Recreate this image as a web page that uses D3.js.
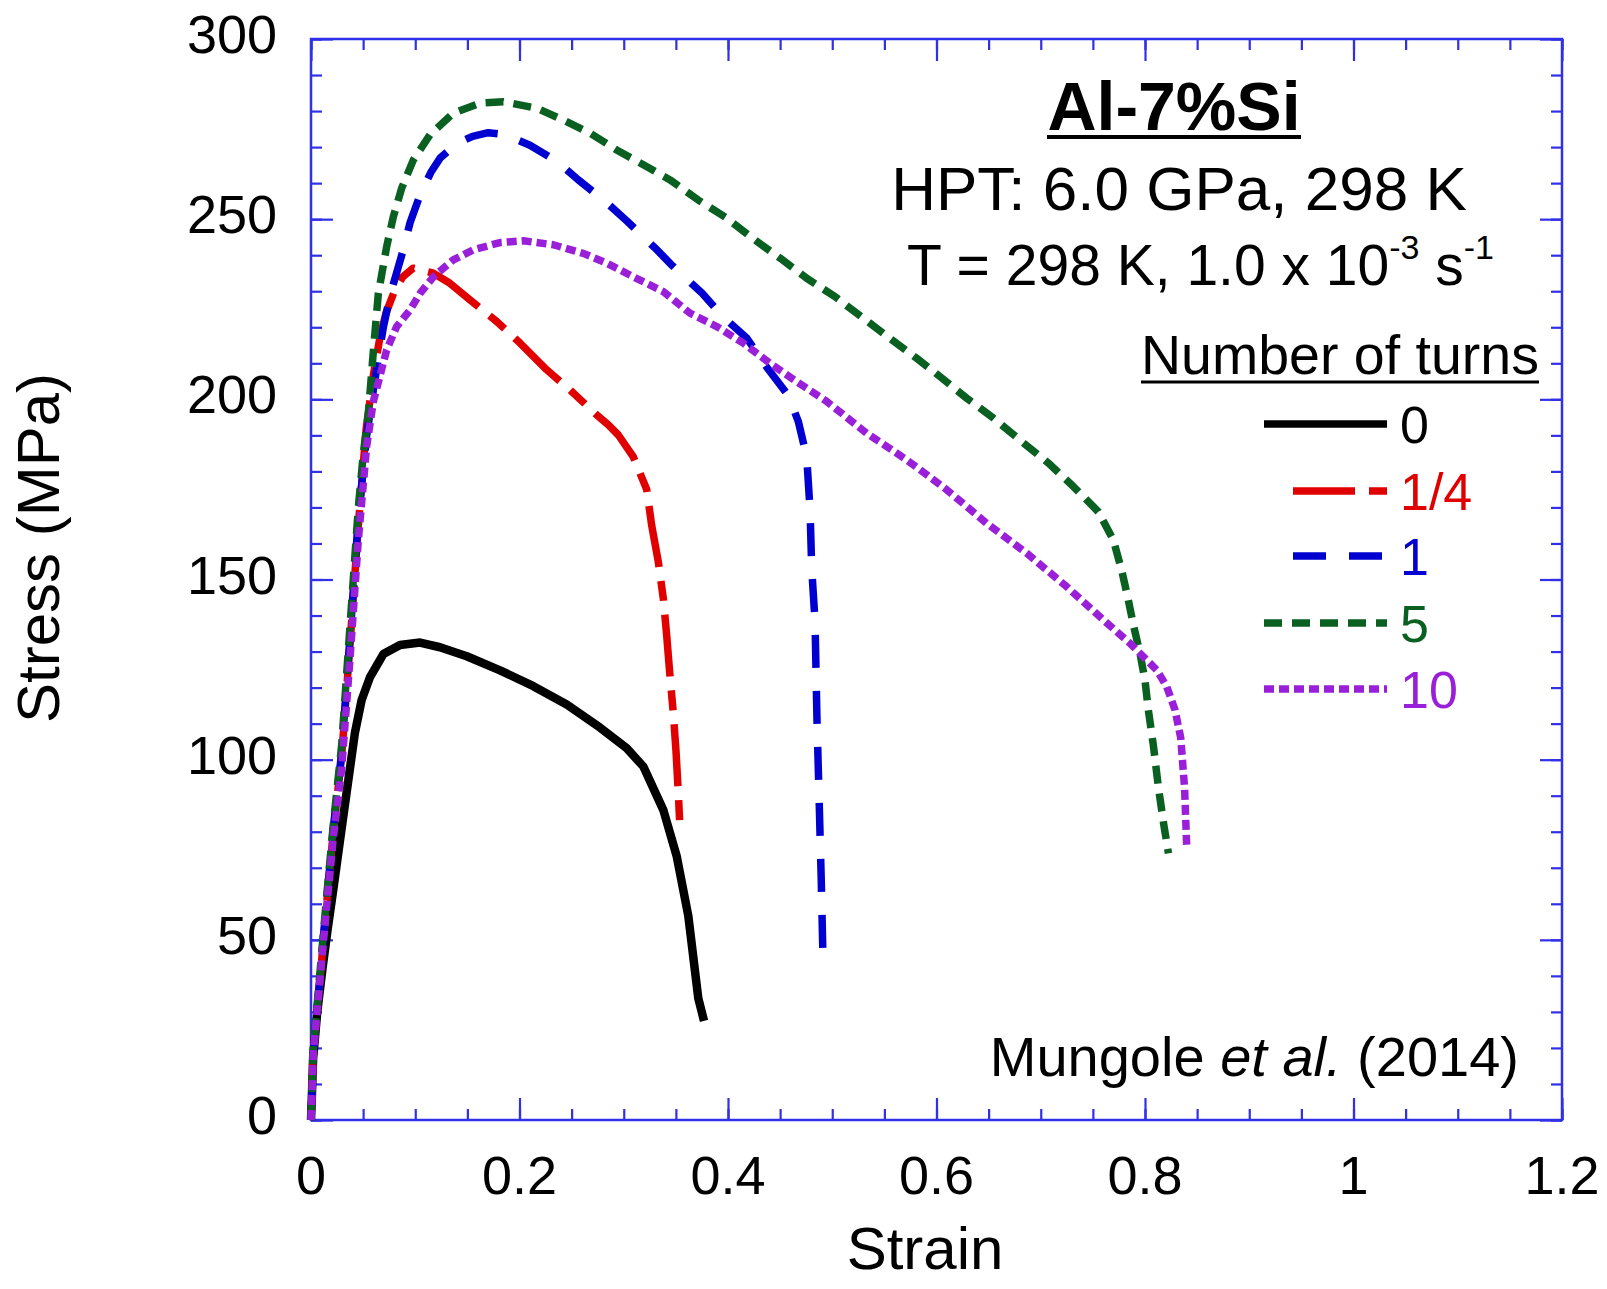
<!DOCTYPE html>
<html>
<head>
<meta charset="utf-8">
<script src="https://cdn.jsdelivr.net/npm/d3@7"></script>
<style>
  body { margin: 0; background: #fff; }
  text { font-family: "Liberation Sans", Arial, sans-serif; }
</style>
</head>
<body>
<svg id="chart" width="1607" height="1289"></svg>
<script>
// stress-strain curves, [strain, stress MPa]
const turns0 = [[0,0],[0.001,8],[0.002,17],[0.006,30],[0.011,42],[0.016,53],[0.0214,64],[0.028,78],[0.0342,91],[0.0422,107.6],[0.0486,116.6],[0.0566,122.9],[0.0694,129.3],[0.0854,131.8],[0.1046,132.5],[0.1237,131.2],[0.1494,128.7],[0.1813,124.8],[0.2133,120.4],[0.2453,115.3],[0.2772,108.9],[0.3028,103.2],[0.3188,98.1],[0.338,86],[0.3508,73.2],[0.3619,56.7],[0.3715,33.8],[0.377,27.5]]
const turnsQuarter = [[0,0],[0.001,8],[0.002,18],[0.0086,39],[0.015,60],[0.0214,80],[0.0294,101],[0.0374,132],[0.0454,165],[0.053,192],[0.06,207],[0.066,217],[0.072,224],[0.08,230],[0.088,234],[0.098,236.4],[0.1174,235],[0.1333,232.2],[0.1525,227.6],[0.1781,221.6],[0.2005,215.6],[0.2261,208.2],[0.2485,202.6],[0.274,195.7],[0.2852,192.9],[0.2948,190.1],[0.3092,184],[0.322,175],[0.3268,165],[0.3332,154.8],[0.338,144.6],[0.3412,134.4],[0.3444,123],[0.3476,112.7],[0.3501,102.5],[0.3523,91],[0.354,80.5]]
const turns1 = [[0,0],[0.001,8],[0.002,18],[0.0086,40],[0.015,61],[0.0214,81],[0.0294,102],[0.0374,134],[0.0454,167],[0.0534,190],[0.06,203],[0.0694,220],[0.076,229],[0.082,235],[0.088,241],[0.095,249],[0.105,257],[0.115,263],[0.124,267],[0.14,271],[0.155,273],[0.17,274],[0.186,273.5],[0.21,270.5],[0.236,266],[0.256,261],[0.282,255],[0.303,249.5],[0.33,242],[0.347,237],[0.375,229.5],[0.395,223],[0.418,217],[0.437,209],[0.458,201],[0.4675,193.8],[0.4755,184.1],[0.4787,169.3],[0.4803,153.1],[0.4835,138.3],[0.4853,111.7],[0.4875,88],[0.4895,66],[0.4911,45]]
const turns5 = [[0,0],[0.001,8],[0.002,19],[0.0086,41],[0.015,62],[0.0214,82],[0.0294,104],[0.0374,137],[0.0454,170],[0.0502,185],[0.055,196],[0.06,214],[0.0646,229.4],[0.0726,242.4],[0.079,250.7],[0.087,258.6],[0.0981,266.4],[0.1141,273.4],[0.1365,279.4],[0.1621,282.2],[0.1845,282.6],[0.2165,280.8],[0.242,277.5],[0.2676,273.9],[0.2932,269.2],[0.3188,265.1],[0.3444,260.9],[0.3715,255.3],[0.3987,250.3],[0.4259,244.2],[0.4499,239.2],[0.4755,233.6],[0.5026,228.5],[0.5298,222.5],[0.5554,216.9],[0.581,211.4],[0.6034,206.3],[0.629,200.3],[0.6545,194.8],[0.6817,188.3],[0.7073,182.3],[0.7313,175.8],[0.7552,168.8],[0.7696,161],[0.7776,152.6],[0.784,144.3],[0.7888,137.5],[0.7952,129.5],[0.8,122],[0.8032,113.8],[0.808,104],[0.813,92],[0.818,82],[0.8225,74]]
const turns10 = [[0,0],[0.001,7],[0.0022,18.5],[0.0086,38.9],[0.015,59.2],[0.0214,78.3],[0.0294,97.5],[0.0374,128],[0.0454,161],[0.0534,187],[0.0598,199.4],[0.0726,213.7],[0.0822,220.2],[0.095,224.8],[0.1046,229.4],[0.1174,234],[0.1365,238.7],[0.1557,241.5],[0.1813,243.5],[0.2037,244],[0.2324,242.9],[0.2612,240.5],[0.2836,237.8],[0.3092,234],[0.338,229.9],[0.3635,223.9],[0.3892,220.2],[0.4147,215.6],[0.4403,210],[0.4659,204.9],[0.4947,199.4],[0.533,190.6],[0.5714,183.2],[0.6098,174.9],[0.6481,165.6],[0.6865,157.3],[0.7249,148],[0.76,138.8],[0.7856,132.3],[0.7952,129.5],[0.8112,124.9],[0.8208,120.3],[0.8288,113.8],[0.8343,106],[0.838,92],[0.84,76]]

const seriesNames = ['0', '1/4', '1', '5', '10']
const seriesData = [turns0, turnsQuarter, turns1, turns5, turns10]
const seriesColors = ['#000000', '#e00000', '#0000d0', '#0a6020', '#9a1fd8']
const seriesDash = ['none', '62,14,20,14', '33,23', '18,10', '10,5']

const xTicks = [0, 0.2, 0.4, 0.6, 0.8, 1, 1.2]
const yTicks = [0, 50, 100, 150, 200, 250, 300]

const svg = d3.select('#chart')
const frame = { left: 311, right: 1562, top: 39, bottom: 1120 }
const axisColor = '#3030e8'

const x = d3.scaleLinear().domain([0, 1.2]).range([frame.left, frame.right])
const y = d3.scaleLinear().domain([0, 300]).range([frame.bottom, frame.top])

svg.append('rect')
    .attr('width', 1607).attr('height', 1289).attr('fill', '#fff')

// ticks, inward on all four sides
const xMinor = d3.range(0, 1.2001, 0.05)
const yMinor = d3.range(0, 300.1, 10)

function tickAxis(axisFn, scale, values, size, transform) {
    svg.append('g')
        .attr('transform', transform)
        .call(axisFn(scale).tickValues(values).tickSize(size).tickFormat(''))
        .call(g => g.select('.domain').remove())
        .call(g => g.selectAll('line').attr('stroke', axisColor).attr('stroke-width', 2.2))
}
tickAxis(d3.axisTop, x, xMinor, 11, `translate(0,${frame.bottom})`)
tickAxis(d3.axisTop, x, xTicks, 22, `translate(0,${frame.bottom})`)
tickAxis(d3.axisBottom, x, xMinor, 11, `translate(0,${frame.top})`)
tickAxis(d3.axisBottom, x, xTicks, 22, `translate(0,${frame.top})`)
tickAxis(d3.axisRight, y, yMinor, 11, `translate(${frame.left},0)`)
tickAxis(d3.axisRight, y, yTicks, 22, `translate(${frame.left},0)`)
tickAxis(d3.axisLeft, y, yMinor, 11, `translate(${frame.right},0)`)
tickAxis(d3.axisLeft, y, yTicks, 22, `translate(${frame.right},0)`)

svg.append('rect')
    .attr('x', frame.left).attr('y', frame.top)
    .attr('width', frame.right - frame.left).attr('height', frame.bottom - frame.top)
    .attr('fill', 'none').attr('stroke', axisColor).attr('stroke-width', 2.5)

// tick labels
const fmt = d3.format('~g')
svg.selectAll('.xlab').data(xTicks).enter().append('text')
    .attr('x', d => x(d)).attr('y', 1194)
    .attr('text-anchor', 'middle').attr('font-size', 54)
    .text(d => fmt(d))
svg.selectAll('.ylab').data(yTicks).enter().append('text')
    .attr('x', 277).attr('y', d => y(d) + 14)
    .attr('text-anchor', 'end').attr('font-size', 54)
    .text(d => fmt(d))

svg.append('text').attr('x', 925).attr('y', 1269)
    .attr('text-anchor', 'middle').attr('font-size', 60).text('Strain')
svg.append('text')
    .attr('transform', 'translate(59,548) rotate(-90)')
    .attr('text-anchor', 'middle').attr('font-size', 60).text('Stress (MPa)')

// curves
const line = d3.line().x(d => x(d[0])).y(d => y(d[1]))
seriesData.forEach((data, i) => {
    svg.append('path')
        .datum(data)
        .attr('d', line)
        .attr('fill', 'none')
        .attr('stroke', seriesColors[i])
        .attr('stroke-width', i == 0 ? 8.5 : 7.5)
        .attr('stroke-dasharray', seriesDash[i])
        .attr('stroke-linejoin', 'round')
})

// annotations
svg.append('text').attr('x', 1174).attr('y', 130)
    .attr('text-anchor', 'middle').attr('font-size', 68).attr('font-weight', 'bold')
    .text('Al-7%Si')
svg.append('line').attr('x1', 1047).attr('x2', 1301).attr('y1', 137).attr('y2', 137)
    .attr('stroke', '#000').attr('stroke-width', 4)
svg.append('text').attr('x', 1179).attr('y', 210)
    .attr('text-anchor', 'middle').attr('font-size', 62)
    .text('HPT: 6.0 GPa, 298 K')
const rate = svg.append('text').attr('x', 907).attr('y', 285).attr('font-size', 57)
rate.append('tspan').text('T = 298 K, 1.0 x 10')
rate.append('tspan').attr('dy', -26).attr('font-size', 34).text('-3')
rate.append('tspan').attr('dy', 26).text(' s')
rate.append('tspan').attr('dy', -26).attr('font-size', 34).text('-1')

svg.append('text').attr('x', 1141).attr('y', 374).attr('font-size', 55.5)
    .text('Number of turns')
svg.append('line').attr('x1', 1141).attr('x2', 1539).attr('y1', 382).attr('y2', 382)
    .attr('stroke', '#000').attr('stroke-width', 3)

// legend
const legendY = [424, 491, 556, 623, 689]
const legendX0 = [1264, 1293, 1293, 1264, 1264]
seriesNames.forEach((name, i) => {
    svg.append('line')
        .attr('x1', legendX0[i]).attr('x2', 1387)
        .attr('y1', legendY[i]).attr('y2', legendY[i])
        .attr('stroke', seriesColors[i]).attr('stroke-width', 7.5)
        .attr('stroke-dasharray', seriesDash[i])
    svg.append('text')
        .attr('x', 1400).attr('y', legendY[i] + 19)
        .attr('font-size', 52).attr('fill', seriesColors[i])
        .text(name)
})

const cite = svg.append('text').attr('x', 1519).attr('y', 1076)
    .attr('text-anchor', 'end').attr('font-size', 56)
cite.append('tspan').text('Mungole ')
cite.append('tspan').attr('font-style', 'italic').text('et al.')
cite.append('tspan').text(' (2014)')
</script>
</body>
</html>
